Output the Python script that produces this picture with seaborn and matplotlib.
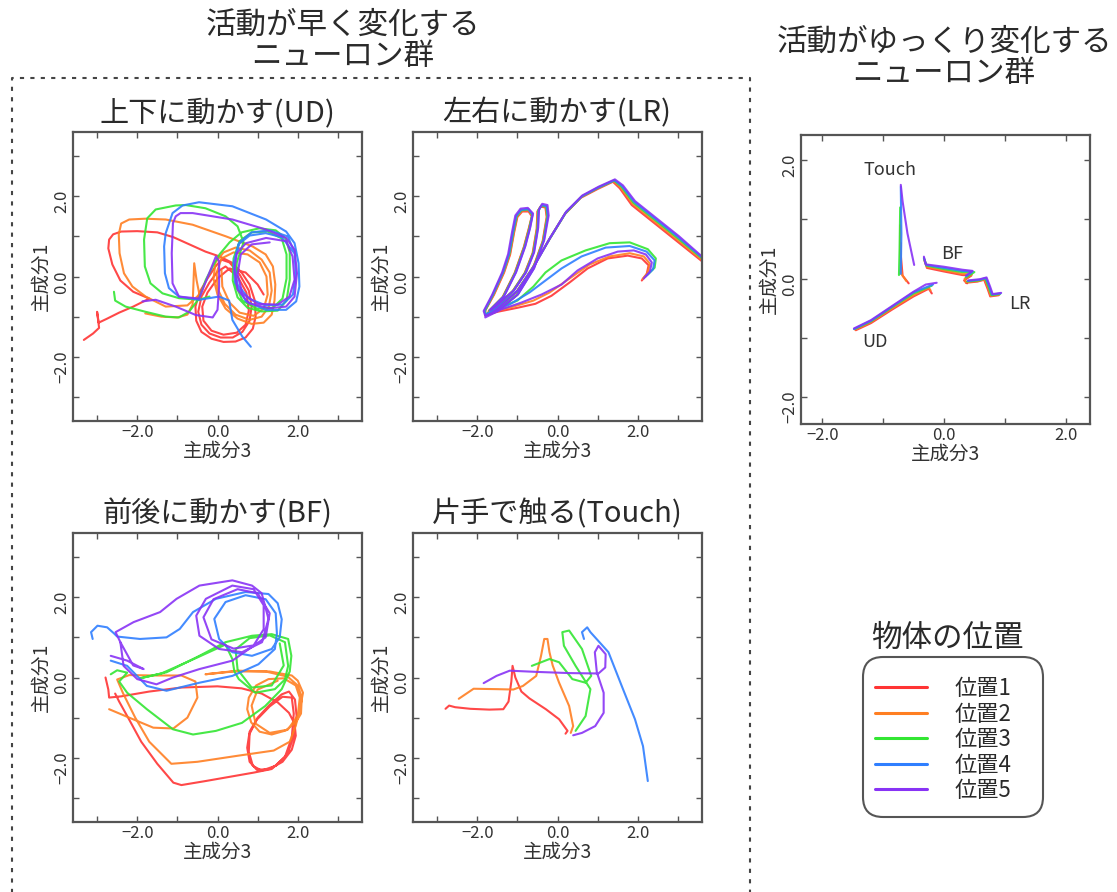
import numpy as np
import pandas as pd
import seaborn as sns
import matplotlib.pyplot as plt
from matplotlib.lines import Line2D
from matplotlib.patches import FancyBboxPatch
from matplotlib.transforms import IdentityTransform

sns.set_theme(style="ticks")
plt.rcParams["font.family"] = ["Noto Sans CJK JP", "DejaVu Sans"]

# Object positions and their colours
positions = ["位置1", "位置2", "位置3", "位置4", "位置5"]
colors = ["#ff3434", "#ff7f22", "#33e633", "#2f7fff", "#8833f5"]

# ---- fast neurons, up/down (UD) ----
ud_red = [(-3.33, -1.58), (-3.1, -1.42), (-2.95, -1.28), (-3.0, -0.88), (-2.96, -1.15), (-2.75, -1.05),
          (-2.45, -0.9), (-2.1, -0.75), (-1.7, -0.55), (-2.1, -0.38), (-2.42, -0.1), (-2.62, 0.3),
          (-2.72, 0.7), (-2.7, 0.92), (-2.6, 1.05), (-2.4, 1.12), (-2.0, 1.13), (-1.5, 1.1), (-1.1, 0.98),
          (-0.7, 0.8), (-0.3, 0.62), (0.05, 0.5), (0.35, 0.35), (0.6, 0.1), (0.8, -0.2), (0.93, -0.6),
          (0.95, -1.0), (0.88, -1.3), (0.7, -1.52), (0.45, -1.62), (0.15, -1.63), (-0.15, -1.55), (-0.4, -1.38),
          (-0.53, -1.1), (-0.55, -0.75), (-0.45, -0.4), (-0.25, -0.05), (-0.05, 0.25), (0.1, 0.42), (0.3, 0.35),
          (0.55, 0.05), (0.78, -0.35), (0.85, -0.75), (0.8, -1.1), (0.62, -1.38), (0.38, -1.52), (0.08, -1.52),
          (-0.2, -1.42), (-0.4, -1.2), (-0.48, -0.88), (-0.4, -0.5), (-0.2, -0.15), (0.0, 0.12), (0.2, 0.25),
          (0.5, 0.0), (0.72, -0.4), (0.78, -0.85), (0.7, -1.2), (0.48, -1.4), (0.15, -1.45), (-0.15, -1.35),
          (-0.35, -1.1), (-0.38, -0.75), (-0.25, -0.4), (0.0, -0.05), (0.3, 0.2), (0.7, 0.1), (1.0, -0.2),
          (1.15, -0.45)]
ud_orange = [(-1.8, -0.92), (-1.4, -1.0), (-1.0, -1.02), (-0.75, -0.95), (-0.62, -0.7), (-0.6, -0.2),
             (-0.58, 0.33), (-0.52, -0.1), (-0.45, -0.45), (-0.75, -0.72), (-1.29, -0.75), (-1.79, -0.5),
             (-2.12, -0.25), (-2.33, 0.08), (-2.44, 0.58), (-2.46, 1.05), (-2.4, 1.32), (-2.2, 1.42),
             (-1.8, 1.44), (-1.29, 1.42), (-0.62, 1.29), (0.21, 1.0), (0.87, 0.75), (1.2, 0.55), (1.38, 0.25),
             (1.44, -0.2), (1.42, -0.6), (1.35, -0.95), (1.15, -1.15), (0.85, -1.18), (0.5, -1.05), (0.2, -0.8),
             (0.0, -0.45), (-0.1, -0.05), (-0.05, 0.35), (0.15, 0.6), (0.45, 0.72), (0.8, 0.65), (1.1, 0.42),
             (1.3, 0.1), (1.35, -0.35), (1.28, -0.75), (1.1, -1.0), (0.8, -1.08), (0.45, -0.95), (0.18, -0.68),
             (0.0, -0.3), (-0.02, 0.1), (0.1, 0.45), (0.4, 0.6), (0.75, 0.55), (1.05, 0.35), (1.22, 0.0),
             (1.25, -0.45), (1.15, -0.8), (0.9, -0.98), (0.55, -0.9), (0.3, -0.65), (0.12, -0.25), (0.1, 0.15)]
ud_green = [(-2.58, -0.38), (-2.55, -0.6), (-2.29, -0.75), (-1.79, -0.88), (-1.29, -1.0), (-0.96, -1.02),
            (-0.71, -0.88), (-0.46, -0.55), (-0.29, -0.08), (-0.12, 0.25), (0.05, 0.55), (0.3, 0.85),
            (0.6, 1.1), (1.04, 1.2), (1.45, 1.15), (1.7, 0.95), (1.8, 0.6), (1.8, -0.08), (1.72, -0.6),
            (1.5, -0.85), (1.1, -0.87), (0.75, -0.78), (0.5, -0.52), (0.38, -0.1), (0.4, 0.45), (0.55, 0.88),
            (0.85, 1.1), (1.25, 1.12), (1.6, 0.95), (1.72, 0.55), (1.72, -0.05), (1.62, -0.55), (1.38, -0.78),
            (0.98, -0.8), (0.62, -0.6), (0.45, -0.2), (0.48, 0.35), (0.65, 0.85), (0.5, 1.25), (0.2, 1.5),
            (-0.3, 1.7), (-0.79, 1.78), (-1.04, 1.77), (-1.54, 1.67), (-1.75, 1.45), (-1.83, 0.92),
            (-1.81, 0.25), (-1.67, -0.17), (-1.37, -0.42), (-0.96, -0.54), (-0.46, -0.58), (-0.2, -0.5)]
ud_blue = [(1.9, 0.6), (1.6, 0.98), (1.2, 1.08), (0.8, 1.02), (0.52, 0.8), (0.42, 0.3), (0.5, -0.2),
           (0.78, -0.55), (1.2, -0.72), (1.62, -0.7), (1.88, -0.45), (1.95, 0.05), (1.92, 0.6), (1.75, 1.0),
           (1.3, 1.15), (0.85, 1.1), (0.55, 0.85), (0.4, 0.35), (0.44, -0.15), (0.71, -0.62), (1.21, -0.83),
           (1.71, -0.83), (1.96, -0.62), (2.04, -0.25), (2.02, 0.33), (1.92, 0.83), (1.71, 1.12), (1.21, 1.42),
           (0.37, 1.75), (-0.46, 1.85), (-0.87, 1.77), (-1.12, 1.58), (-1.29, 1.08), (-1.33, 0.75),
           (-1.31, 0.08), (-1.21, -0.29), (-0.96, -0.5), (-0.46, -0.58), (0.04, -0.5), (0.29, -0.6),
           (0.37, -1.08), (0.62, -1.5), (0.83, -1.75)]
ud_purple = [(-1.87, -0.62), (-1.54, -0.58), (-1.04, -0.75), (-0.54, -0.96), (-0.12, -1.02), (0.0, -0.83),
             (0.04, -0.25), (0.04, 0.38), (-0.04, 0.5), (-0.2, 0.1), (-0.46, -0.55), (-0.96, -0.5),
             (-1.12, -0.17), (-1.14, 0.58), (-1.11, 1.33), (-1.04, 1.5), (-0.92, 1.58), (-0.62, 1.58),
             (0.37, 1.42), (1.21, 1.17), (1.71, 0.96), (1.92, 0.67), (1.98, 0.08), (1.92, -0.5), (1.71, -0.75),
             (1.29, -0.79), (0.79, -0.67), (0.5, -0.33), (0.42, 0.17), (0.48, 0.58), (0.71, 0.83), (1.21, 0.96),
             (1.71, 0.88), (1.87, 0.5), (1.92, -0.08), (1.79, -0.5), (1.5, -0.7), (1.0, -0.68), (0.62, -0.42),
             (0.5, 0.05), (0.58, 0.55), (0.85, 0.8), (1.3, 0.85)]

# ---- fast neurons, left/right (LR) ----
lr_red = [(2.1, -0.1), (2.22, 0.05), (2.27, 0.28), (2.1, 0.45), (1.75, 0.52), (1.25, 0.45), (0.75, 0.2),
          (0.3, -0.15), (-0.15, -0.48), (-0.55, -0.68), (-1.0, -0.78), (-1.5, -0.88), (-1.8, -0.97),
          (-1.8, -0.85), (-1.58, -0.45), (-1.33, 0.1), (-1.18, 0.55), (-1.08, 1.1), (-1.0, 1.48), (-0.88, 1.62),
          (-0.72, 1.62), (-0.64, 1.5), (-0.72, 1.18), (-0.84, 0.73), (-1.07, 0.08), (-1.37, -0.52),
          (-1.72, -0.87), (-1.56, -0.78), (-1.12, -0.37), (-0.82, 0.08), (-0.62, 0.58), (-0.52, 1.18),
          (-0.5, 1.62), (-0.42, 1.74), (-0.3, 1.72), (-0.27, 1.48), (-0.37, 0.88), (-0.62, 0.18), (-1.02, -0.47),
          (-1.52, -0.87), (-1.8, -0.97), (-1.52, -0.8), (-1.02, -0.38), (-0.62, 0.22), (-0.22, 0.9),
          (0.18, 1.55), (0.58, 1.96), (1.0, 2.18), (1.38, 2.36), (1.55, 2.2), (1.85, 1.78), (2.35, 1.38),
          (2.95, 0.9), (3.7, 0.3)]
lr_orange = [(2.12, -0.06), (2.25, 0.1), (2.3, 0.32), (2.15, 0.5), (1.8, 0.58), (1.3, 0.5), (0.8, 0.3),
             (0.3, -0.05), (-0.2, -0.4), (-0.6, -0.6), (-1.1, -0.75), (-1.5, -0.85), (-1.8, -0.95),
             (-1.81, -0.85), (-1.59, -0.45), (-1.34, 0.1), (-1.19, 0.55), (-1.09, 1.1), (-1.01, 1.49),
             (-0.89, 1.64), (-0.72, 1.65), (-0.63, 1.52), (-0.71, 1.19), (-0.83, 0.74), (-1.06, 0.09),
             (-1.36, -0.51), (-1.71, -0.86), (-1.55, -0.77), (-1.11, -0.36), (-0.81, 0.09), (-0.61, 0.59),
             (-0.51, 1.19), (-0.49, 1.63), (-0.41, 1.76), (-0.29, 1.73), (-0.26, 1.49), (-0.36, 0.89),
             (-0.61, 0.19), (-1.01, -0.46), (-1.51, -0.86), (-1.79, -0.96), (-1.51, -0.79), (-1.01, -0.37),
             (-0.61, 0.23), (-0.21, 0.92), (0.19, 1.57), (0.59, 1.98), (1.0, 2.2), (1.39, 2.38), (1.57, 2.22),
             (1.87, 1.81), (2.37, 1.41), (2.97, 0.93), (3.7, 0.33)]
lr_green = [(2.25, 0.05), (2.42, 0.22), (2.45, 0.45), (2.25, 0.68), (1.8, 0.85), (1.3, 0.83), (0.7, 0.65),
            (0.1, 0.4), (-0.3, 0.1), (-0.6, -0.25), (-1.0, -0.6), (-1.5, -0.8), (-1.8, -0.95), (-1.8, -0.84),
            (-1.6, -0.44), (-1.35, 0.12), (-1.2, 0.56), (-1.1, 1.11), (-1.02, 1.5), (-0.9, 1.65), (-0.72, 1.67),
            (-0.63, 1.54), (-0.7, 1.2), (-0.82, 0.75), (-1.05, 0.1), (-1.35, -0.5), (-1.7, -0.85),
            (-1.54, -0.76), (-1.1, -0.35), (-0.8, 0.1), (-0.6, 0.6), (-0.5, 1.2), (-0.48, 1.64), (-0.4, 1.77),
            (-0.28, 1.74), (-0.25, 1.5), (-0.35, 0.9), (-0.6, 0.2), (-1.0, -0.45), (-1.5, -0.85), (-1.78, -0.95),
            (-1.5, -0.78), (-1.0, -0.36), (-0.6, 0.24), (-0.2, 0.93), (0.2, 1.58), (0.6, 1.99), (1.01, 2.21),
            (1.41, 2.39), (1.59, 2.24), (1.89, 1.84), (2.39, 1.44), (2.99, 0.96), (3.7, 0.37)]
lr_blue = [(2.2, 0.0), (2.38, 0.18), (2.42, 0.4), (2.22, 0.62), (1.8, 0.76), (1.2, 0.72), (0.6, 0.5),
           (0.1, 0.2), (-0.3, -0.1), (-0.7, -0.4), (-1.2, -0.7), (-1.8, -0.95), (-1.82, -0.85), (-1.61, -0.45),
           (-1.36, 0.1), (-1.21, 0.55), (-1.11, 1.1), (-1.03, 1.5), (-0.91, 1.66), (-0.73, 1.68),
           (-0.62, 1.55), (-0.69, 1.2), (-0.81, 0.75), (-1.04, 0.1), (-1.34, -0.5), (-1.69, -0.85),
           (-1.54, -0.75), (-1.09, -0.35), (-0.79, 0.1), (-0.59, 0.6), (-0.49, 1.2), (-0.47, 1.65),
           (-0.39, 1.78), (-0.27, 1.75), (-0.24, 1.5), (-0.34, 0.9), (-0.59, 0.2), (-0.99, -0.45),
           (-1.49, -0.85), (-1.78, -0.95), (-1.49, -0.78), (-0.99, -0.35), (-0.59, 0.25), (-0.19, 0.95),
           (0.21, 1.6), (0.61, 2.0), (1.02, 2.22), (1.42, 2.4), (1.61, 2.25), (1.91, 1.86), (2.41, 1.46),
           (3.01, 0.98), (3.7, 0.39)]
lr_purple = [(2.15, -0.05), (2.3, 0.12), (2.35, 0.35), (2.2, 0.55), (1.9, 0.65), (1.5, 0.62), (1.0, 0.45),
             (0.5, 0.15), (0.1, -0.2), (-0.4, -0.45), (-0.9, -0.65), (-1.4, -0.82), (-1.8, -0.98),
             (-1.84, -0.86), (-1.63, -0.46), (-1.38, 0.1), (-1.23, 0.56), (-1.13, 1.12), (-1.05, 1.52),
             (-0.92, 1.69), (-0.74, 1.71), (-0.61, 1.57), (-0.68, 1.22), (-0.8, 0.76), (-1.03, 0.11),
             (-1.33, -0.49), (-1.68, -0.84), (-1.53, -0.74), (-1.08, -0.34), (-0.78, 0.11), (-0.58, 0.61),
             (-0.48, 1.22), (-0.46, 1.67), (-0.38, 1.81), (-0.25, 1.78), (-0.22, 1.52), (-0.33, 0.91),
             (-0.58, 0.21), (-0.98, -0.44), (-1.48, -0.86), (-1.8, -1.02), (-1.48, -0.79), (-0.98, -0.34),
             (-0.58, 0.26), (-0.18, 0.97), (0.22, 1.62), (0.62, 2.02), (1.03, 2.24), (1.43, 2.42), (1.63, 2.27),
             (1.93, 1.88), (2.43, 1.48), (3.03, 1.0), (3.7, 0.41)]

# ---- fast neurons, back/forth (BF) ----
bf_red = [(-2.79, 0.0), (-2.72, -0.3), (-2.7, -0.5), (-2.4, -0.47), (-1.7, -0.35), (-0.9, -0.25), (0.0, -0.22),
          (0.6, -0.27), (1.1, -0.4), (1.5, -0.62), (1.78, -0.88), (1.92, -1.15), (1.95, -1.45), (1.85, -1.8),
          (1.62, -2.1), (1.3, -2.28), (0.98, -2.3), (0.8, -2.1), (0.74, -1.75), (0.8, -1.35), (1.0, -1.0),
          (1.3, -0.68), (1.6, -0.42), (1.78, -0.35), (1.93, -0.55), (1.97, -0.95), (1.9, -1.45), (1.75, -1.9),
          (1.45, -2.2), (1.1, -2.32), (0.88, -2.2), (0.78, -1.85), (0.8, -1.4), (0.98, -1.05), (1.3, -0.72),
          (1.62, -0.48), (1.85, -0.5), (1.9, -0.9), (1.85, -1.5), (1.68, -1.98), (1.35, -2.28), (0.9, -2.37),
          (-0.3, -2.58), (-0.9, -2.68), (-1.1, -2.62), (-1.5, -2.15), (-1.9, -1.6), (-2.2, -1.05),
          (-2.45, -0.6), (-2.55, -0.4)]
bf_orange = [(-2.7, -0.79), (-2.2, -1.0), (-1.6, -1.25), (-1.1, -1.27), (-0.75, -1.0), (-0.5, -0.5),
             (-0.55, -0.1), (-0.9, 0.05), (-1.6, 0.05), (-2.2, 0.06), (-2.5, -0.05), (-2.35, -0.4), (-2.05, -1.0),
             (-1.7, -1.6), (-1.15, -2.15), (-0.5, -2.1), (0.5, -1.95), (1.4, -1.82), (1.8, -1.6), (1.95, -1.2),
             (2.05, -0.8), (2.13, -0.38), (2.0, -0.08), (1.85, 0.05), (1.3, 0.15), (0.5, 0.17), (-0.3, 0.08),
             (0.4, 0.15), (1.2, 0.15), (1.75, 0.02), (2.0, -0.2), (2.1, -0.5), (2.08, -0.9), (1.95, -1.12),
             (1.7, -1.32), (1.35, -1.42), (1.05, -1.35), (0.84, -1.12), (0.74, -0.79), (0.78, -0.5),
             (0.96, -0.2), (1.27, -0.04), (1.65, -0.02), (1.95, -0.2), (2.05, -0.5), (2.0, -0.95), (1.75, -1.3),
             (1.3, -1.38), (0.95, -1.15), (0.85, -0.7), (1.0, -0.3), (1.5, -0.08)]
bf_green = [(-2.66, 0.08), (-2.5, 0.18), (-2.25, 0.12), (-2.45, -0.1), (-2.25, -0.38), (-1.76, -0.79),
            (-1.11, -1.29), (-0.61, -1.42), (-0.04, -1.33), (0.61, -1.13), (1.19, -0.71), (1.6, -0.29),
            (1.8, 0.15), (1.84, 0.54), (1.76, 0.96), (1.35, 1.08), (0.86, 1.04), (0.2, 0.88), (-0.45, 0.54),
            (-1.27, 0.13), (-1.93, -0.02), (-1.4, 0.1), (-0.5, 0.5), (0.2, 0.82), (0.37, 0.46), (0.42, 0.15),
            (0.53, -0.04), (0.94, -0.38), (1.43, -0.29), (1.68, -0.05), (1.76, 0.29), (1.68, 0.88), (1.3, 1.05),
            (0.8, 0.98), (0.45, 0.7), (0.5, 0.2), (0.85, -0.25), (1.35, -0.2), (1.65, 0.3), (1.55, 0.85)]
bf_blue = [(-3.11, 0.96), (-3.15, 1.13), (-2.99, 1.29), (-2.75, 1.25), (-2.58, 1.1), (-2.5, 1.02), (-1.93, 0.96),
           (-1.27, 1.0), (-0.94, 1.21), (-0.61, 1.63), (-0.04, 1.96), (0.7, 2.13), (1.27, 2.08), (1.5, 1.85),
           (1.6, 1.45), (1.55, 1.0), (1.35, 0.71), (0.86, 0.54), (0.37, 0.63), (0.04, 0.96), (-0.08, 1.46),
           (0.2, 1.88), (0.7, 2.05), (1.2, 1.95), (1.45, 1.6), (1.48, 1.1), (1.43, 0.71), (1.02, 0.33),
           (0.37, 0.04), (-0.45, -0.13), (-1.27, -0.33), (-1.76, -0.21), (-2.25, 0.29), (-2.66, 0.42)]
bf_purple = [(-2.66, 0.54), (-2.25, 0.42), (-1.84, 0.21), (-2.1, 0.3), (-2.42, 0.88), (-2.54, 1.13),
             (-2.09, 1.38), (-1.43, 1.63), (-1.02, 1.96), (-0.45, 2.29), (0.37, 2.42), (0.86, 2.29), (1.1, 2.1),
             (1.27, 1.46), (1.11, 0.88), (0.61, 0.63), (0.04, 0.71), (-0.45, 1.04), (-0.53, 1.54), (-0.29, 1.96),
             (0.37, 2.29), (0.9, 2.2), (1.15, 1.8), (1.15, 1.2), (0.9, 0.8), (0.4, 0.72), (-0.15, 0.95),
             (-0.35, 1.5), (-0.1, 1.95), (0.5, 2.2), (1.0, 2.1), (1.3, 1.6), (1.2, 1.0), (0.37, 0.42),
             (-0.45, 0.21), (-1.11, 0.0), (-1.52, -0.17), (-2.0, -0.04), (-2.34, 0.29), (-2.42, 0.88)]

# ---- fast neurons, one-hand touch ----
touch_red = [(-2.79, -0.78), (-2.7, -0.7), (-2.55, -0.74), (-2.17, -0.78), (-1.7, -0.8), (-1.35, -0.79),
             (-1.22, -0.6), (-1.15, -0.1), (-1.12, 0.29), (-1.05, 0.0), (-0.9, -0.35), (-0.7, -0.52),
             (-0.29, -0.79), (0.04, -1.04), (0.25, -1.33), (0.2, -1.4)]
touch_orange = [(-2.46, -0.53), (-2.09, -0.28), (-1.52, -0.29), (-1.1, -0.3), (-0.86, -0.21), (-0.53, 0.04),
                (-0.41, 0.54), (-0.33, 0.96), (-0.25, 0.96), (-0.2, 0.63), (-0.12, 0.3), (0.04, -0.13),
                (0.29, -0.71), (0.39, -1.21), (0.33, -1.38)]
touch_green = [(-0.64, 0.29), (-0.2, 0.46), (0.04, 0.38), (0.37, -0.04), (0.7, -0.13), (0.84, 0.04),
               (0.61, 0.71), (0.29, 1.17), (0.12, 1.13), (0.16, 0.79), (0.45, 0.29), (0.82, -0.29),
               (0.7, -0.96), (0.45, -1.33)]
touch_blue = [(0.66, 0.96), (0.61, 1.13), (0.74, 1.25), (0.82, 1.13), (1.27, 0.63), (1.6, -0.21),
              (1.93, -1.04), (2.13, -1.71), (2.25, -2.58)]
touch_purple = [(-1.84, -0.14), (-1.52, 0.04), (-1.19, 0.17), (-0.53, 0.14), (0.29, 0.11), (1.02, 0.1),
                (1.19, 0.25), (1.2, 0.58), (1.02, 0.79), (0.93, 0.63), (0.98, 0.13), (1.15, -0.38),
                (1.15, -0.88), (0.94, -1.21), (0.61, -1.38), (0.39, -1.44)]

# ---- slow neurons (one segment per movement) ----
slow_red = [
    [(-0.58, -0.08), (-0.68, 0.05), (-0.71, 0.4), (-0.71, 0.6)],
    [(-0.32, 0.3), (-0.28, 0.18), (0.0, 0.12), (0.3, 0.06), (0.45, 0.05), (0.33, -0.03), (0.38, -0.08)],
    [(0.36, -0.07), (0.55, -0.05), (0.66, -0.02), (0.72, -0.18), (0.76, -0.3), (0.9, -0.28)],
    [(-1.45, -0.87), (-1.2, -0.75), (-0.85, -0.52), (-0.5, -0.3), (-0.25, -0.17), (-0.2, -0.25)],
]
slow_orange = [
    [(-0.62, -0.04), (-0.7, 0.08), (-0.72, 0.5), (-0.72, 0.9)],
    [(-0.32, 0.32), (-0.28, 0.2), (0.0, 0.14), (0.3, 0.08), (0.46, 0.07), (0.34, 0.0), (0.36, -0.06)],
    [(0.37, -0.06), (0.56, -0.04), (0.67, -0.01), (0.73, -0.17), (0.77, -0.29), (0.91, -0.27)],
    [(-1.46, -0.86), (-1.2, -0.73), (-0.85, -0.5), (-0.5, -0.28), (-0.25, -0.15), (-0.22, -0.2)],
]
slow_green = [
    [(-0.74, 0.06), (-0.73, 0.5), (-0.72, 1.2)],
    [(-0.33, 0.34), (-0.29, 0.22), (0.0, 0.16), (0.3, 0.11), (0.5, 0.11), (0.36, 0.02)],
    [(0.38, -0.05), (0.57, -0.03), (0.68, 0.0), (0.74, -0.16), (0.78, -0.28), (0.92, -0.26)],
    [(-1.47, -0.85), (-1.2, -0.72), (-0.85, -0.48), (-0.5, -0.25), (-0.2, -0.12)],
]
slow_blue = [
    [(-0.71, 0.08), (-0.7, 0.76), (-0.71, 1.55)],
    [(-0.33, 0.35), (-0.29, 0.23), (0.0, 0.18), (0.3, 0.13), (0.47, 0.12), (0.37, 0.04)],
    [(0.39, -0.04), (0.58, -0.02), (0.69, 0.01), (0.75, -0.15), (0.79, -0.27), (0.93, -0.25)],
    [(-1.48, -0.85), (-1.2, -0.71), (-0.85, -0.47), (-0.5, -0.23), (-0.18, -0.1)],
]
slow_purple = [
    [(-0.49, 0.23), (-0.6, 0.76), (-0.68, 1.3), (-0.71, 1.58)],
    [(-0.33, 0.37), (-0.3, 0.24), (0.0, 0.2), (0.3, 0.15), (0.47, 0.13), (0.36, 0.05)],
    [(0.4, -0.03), (0.59, -0.01), (0.7, 0.02), (0.76, -0.14), (0.8, -0.26), (0.94, -0.24)],
    [(-1.48, -0.84), (-1.2, -0.7), (-0.85, -0.46), (-0.5, -0.22), (-0.3, -0.1), (-0.12, -0.07)],
]

panel_titles = {"UD": "上下に動かす(UD)", "LR": "左右に動かす(LR)",
                "BF": "前後に動かす(BF)", "Touch": "片手で触る(Touch)"}
slow_labels = [("Touch", -0.88, 1.83), ("BF", 0.14, 0.41), ("LR", 1.25, -0.42), ("UD", -1.14, -1.07)]

panels = {
    "UD": [[ud_red], [ud_orange], [ud_green], [ud_blue], [ud_purple]],
    "LR": [[lr_red], [lr_orange], [lr_green], [lr_blue], [lr_purple]],
    "BF": [[bf_red], [bf_orange], [bf_green], [bf_blue], [bf_purple]],
    "Touch": [[touch_red], [touch_orange], [touch_green], [touch_blue], [touch_purple]],
    "slow": [slow_red, slow_orange, slow_green, slow_blue, slow_purple],
}

rows = []
for panel, per_pos in panels.items():
    for pos, segs in zip(positions, per_pos):
        for k, seg in enumerate(segs):
            for x, y in seg:
                rows.append({"panel": panel, "pos": pos, "seg": f"{pos}-{k}", "x": x, "y": y})
df = pd.DataFrame(rows)
palette = dict(zip(positions, colors))

W, H = 1117, 892
def fx(px):
    return px / W
def fy(py):
    return 1 - py / H

fig = plt.figure(figsize=(W / 100, H / 100), dpi=100)
fig.patch.set_facecolor("white")

boxes = {"UD": (73, 132), "LR": (413, 132), "BF": (73, 533), "Touch": (413, 533), "slow": (801, 135)}
grey = "#555555"
ink = "#2a2a2a"

def style(ax, lim, major, minor):
    ax.set_xlim(*lim[0])
    ax.set_ylim(*lim[1])
    labs = ["\u22122.0", "0.0", "2.0"]
    ax.set_xticks(major, labels=labs)
    ax.set_yticks(major, labels=labs)
    ax.set_xticks(minor, minor=True)
    ax.set_yticks(minor, minor=True)
    ax.tick_params(which="both", direction="in", length=4, width=1, top=True, right=True,
                   color=grey, labelcolor="#333333", labelsize=12, pad=2)
    ax.tick_params(axis="y", labelrotation=90)
    for s in ax.spines.values():
        s.set_color(grey)
        s.set_linewidth(1.6)
    ax.set_xlabel("主成分3", fontsize=14, color="#333333", labelpad=0)
    ax.set_ylabel("主成分1", fontsize=14, color="#333333", labelpad=1)
    ax.set_facecolor("white")

for panel, (left, top) in boxes.items():
    ax = fig.add_axes([fx(left), fy(top + 289), fx(289), 289 / H])
    sub = df[df["panel"] == panel]
    sns.lineplot(data=sub, x="x", y="y", hue="pos", units="seg", estimator=None, sort=False,
                 palette=palette, hue_order=positions, lw=1.5, alpha=0.9, legend=False, ax=ax,
                 solid_joinstyle="round", solid_capstyle="round")
    if panel == "slow":
        style(ax, [(-2.35, 2.4), (-2.45, 2.42)], [-2, 0, 2], [-1, 1])
        for name, tx, ty in slow_labels:
            ax.text(tx, ty, name, ha="center", va="center", fontsize=13, color="#333333")
    else:
        style(ax, [(-3.6, 3.6), (-3.6, 3.6)], [-2, 0, 2], [-3, -1, 1, 3])
        fig.text(fx(left + 144), fy(top - 19), panel_titles[panel], ha="center", va="center",
                 fontsize=21, color=ink)

# group titles
fig.text(fx(343), fy(41), "活動が早く変化する\nニューロン群", ha="center", va="center",
         fontsize=22, linespacing=1.0, color=ink)
fig.text(fx(944), fy(58), "活動がゆっくり変化する\nニューロン群", ha="center", va="center",
         fontsize=22, linespacing=1.0, color=ink)

# dotted frame around the fast panels
fig.add_artist(Line2D([fx(12), fx(12), fx(750), fx(750)], [fy(895), fy(78), fy(78), fy(895)],
                      transform=fig.transFigure, ls=(0, (2, 3)), color="#444444", lw=1.5))

# legend: rounded frame drawn separately, title sits above it
fig.add_artist(FancyBboxPatch((863, H - 817), 180, 160, boxstyle="round,pad=0,rounding_size=20",
                              transform=IdentityTransform(), facecolor="white", edgecolor=grey, lw=1.5))
handles = [Line2D([], [], color=c, lw=2.2) for c in colors]
leg = fig.legend(handles, positions, loc="upper left", bbox_to_anchor=(fx(875), fy(677)),
                 frameon=False, fontsize=16, handlelength=2.35, handletextpad=1.25,
                 labelspacing=0.115, borderpad=0, borderaxespad=0)
for t in leg.get_texts():
    t.set_color(ink)
fig.text(fx(947), fy(638), "物体の位置", ha="center", va="center", fontsize=22, color=ink)

fig.savefig("out.png", dpi=100, facecolor="white")
